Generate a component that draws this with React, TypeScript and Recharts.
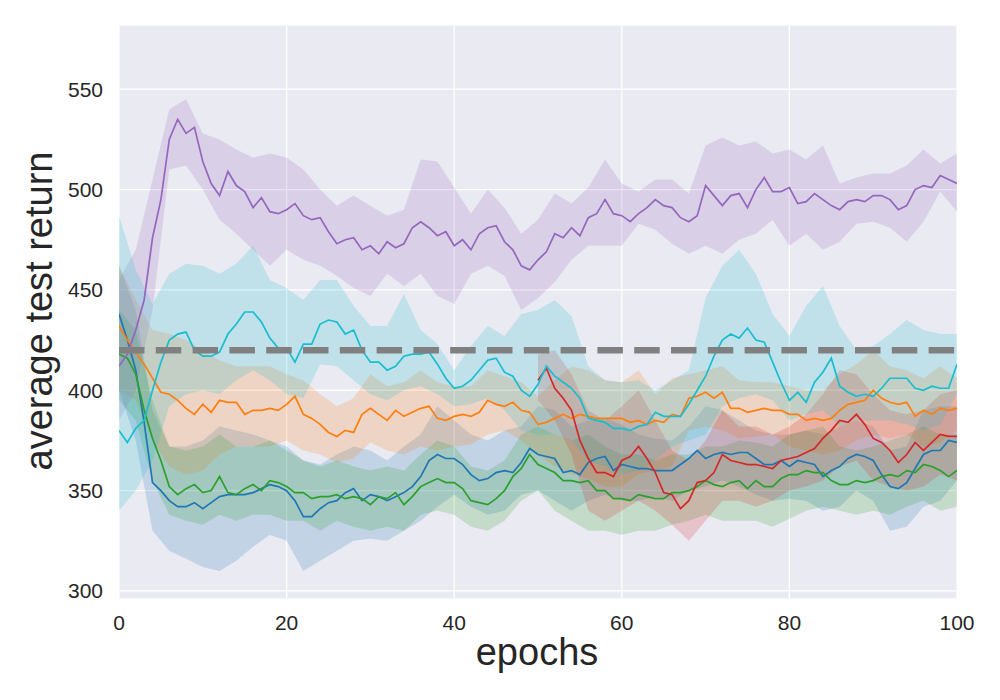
import React from 'react';
import {
  ComposedChart,
  Line,
  Area,
  XAxis,
  YAxis,
  CartesianGrid,
  ReferenceLine,
} from 'recharts';

// x positions: one point per epoch for the means, every 2 epochs for the bands
const lineEpochs = Array.from({ length: 101 }, (_, i) => i);
const bandEpochs = Array.from({ length: 51 }, (_, i) => i * 2);
const redLineEpochs = lineEpochs.slice(50);
const redBandEpochs = bandEpochs.slice(25);

const xTicks = [0, 20, 40, 60, 80, 100];
const yTicks = [300, 350, 400, 450, 500, 550];
const baselineReturn = 420;

const blueMean = [
  438, 425, 410, 384, 354, 350, 345, 342, 342, 344,
  341, 344, 347, 348, 348, 348, 349, 351, 353, 352,
  350, 345, 337, 337, 341, 344, 345, 349, 351, 345,
  348, 347, 345, 347, 349, 352, 357, 365, 368, 366,
  366, 363, 358, 355, 356, 359, 360, 359, 364, 371,
  368, 367, 366, 359, 360, 358, 364, 366, 367, 360,
  363, 362, 361, 361, 360, 360, 360, 363, 366, 370,
  366, 368, 369, 368, 369, 369, 366, 363, 363, 365,
  362, 365, 364, 363, 357, 360, 362, 366, 368, 367,
  365, 358, 352, 351, 354, 361, 368, 370, 370, 375,
  374,
];
const blueLow = [
  400, 375, 330, 320, 316, 312, 310, 315, 322, 328, 325, 310, 315, 320, 325, 326, 325,
  330, 335, 342, 348, 342, 338, 340, 348, 350, 345, 340, 345, 348, 345, 345, 347, 345,
  350, 352, 355, 352, 348, 345, 346, 345, 340, 342, 350, 345, 330, 332, 342, 345, 355,
];
const blueHigh = [
  462, 440, 390, 372, 372, 375, 382, 380, 378, 375, 372, 365, 363, 368, 372, 370, 365,
  372, 378, 392, 385, 378, 375, 380, 382, 392, 390, 382, 385, 386, 383, 378, 376, 375,
  382, 392, 390, 385, 380, 378, 378, 380, 378, 382, 385, 382, 370, 372, 390, 392, 392,
];

const orangeMean = [
  432, 425, 419, 413, 406, 399, 398, 395, 391, 388,
  393, 389, 395, 394, 394, 388, 390, 390, 391, 390,
  393, 397, 388, 386, 383, 379, 377, 380, 379, 388,
  391, 388, 385, 390, 387, 389, 391, 392, 386, 385,
  387, 388, 387, 389, 395, 393, 392, 394, 390, 389,
  383, 384, 386, 388, 386, 388, 387, 386, 386, 386,
  386, 384, 385, 383, 385, 384, 388, 387, 396, 397,
  399, 396, 399, 391, 391, 389, 390, 391, 390, 390,
  388, 388, 385, 386, 385, 386, 390, 393, 394, 395,
  400, 396, 394, 393, 394, 387, 390, 388, 391, 390,
  391,
];
const orangeLow = [
  400, 395, 375, 362, 358, 360, 368, 372, 372, 372, 375, 370, 368, 364, 366, 374, 370,
  368, 372, 370, 372, 373, 378, 380, 375, 368, 362, 358, 356, 352, 352, 358, 360, 362,
  380, 382, 380, 376, 377, 378, 372, 370, 368, 370, 375, 378, 376, 378, 372, 374, 380,
];
const orangeHigh = [
  462, 445, 430, 428, 425, 420, 415, 412, 412, 412, 408, 405, 398, 392, 396, 408, 402,
  404, 410, 404, 402, 402, 410, 407, 404, 397, 405, 412, 410, 405, 404, 410, 398, 406,
  408, 410, 412, 405, 404, 404, 402, 400, 400, 408, 413, 420, 412, 410, 406, 412, 406,
];

const greenMean = [
  418, 416, 408, 390, 376, 365, 352, 348, 351, 353,
  349, 350, 357, 349, 348, 351, 353, 350, 355, 354,
  352, 349, 349, 346, 347, 347, 348, 346, 347, 346,
  343, 347, 346, 349, 343, 347, 352, 354, 356, 354,
  354, 351, 345, 344, 343, 346, 350, 357, 361, 368,
  363, 361, 359, 355, 355, 354, 355, 350, 350, 346,
  346, 345, 348, 347, 346, 346, 349, 349, 350, 352,
  355, 353, 352, 354, 355, 351, 355, 352, 352, 356,
  358, 358, 360, 359, 359, 355, 353, 353, 355, 354,
  355, 357, 358, 357, 360, 359, 363, 362, 360, 357,
  360,
];
const greenLow = [
  395, 385, 355, 338, 335, 333, 338, 335, 338, 338, 335, 335, 330, 335, 332, 330, 332,
  330, 338, 340, 338, 332, 330, 335, 345, 350, 340, 335, 330, 330, 328, 330, 330, 333,
  335, 338, 335, 335, 335, 332, 336, 340, 342, 340, 338, 340, 338, 342, 345, 340, 342,
];
const greenHigh = [
  440, 430, 395, 372, 370, 372, 378, 372, 372, 375, 370, 365, 362, 365, 362, 360, 362,
  360, 368, 375, 372, 362, 360, 365, 378, 382, 378, 375, 378, 372, 368, 368, 365, 368,
  368, 372, 372, 375, 374, 372, 378, 380, 382, 372, 370, 372, 375, 378, 382, 378, 378,
];

// red run only starts halfway (epochs 50..100)
const redMean = [
  405, 411, 401, 396, 390, 375, 366, 359, 359, 357,
  365, 367, 372, 366, 359, 349, 348, 341, 345, 354,
  355, 359, 368, 365, 364, 363, 363, 362, 361, 365,
  366, 367, 369, 371, 376, 380, 385, 384, 388, 383,
  376, 374, 370, 364, 368, 374, 370, 374, 378, 377,
  377,
];
const redLow = [
  395, 385, 368, 340, 335, 340, 345, 340, 333, 325, 335, 345, 345,
  342, 345, 350, 352, 355, 362, 365, 355, 352, 350, 352, 358, 355,
];
const redHigh = [
  418, 420, 408, 390, 385, 392, 400, 385, 370, 365, 375, 390, 382,
  382, 378, 382, 388, 398, 410, 408, 398, 390, 388, 390, 398, 400,
];

const purpleMean = [
  412, 418, 430, 445, 476, 495, 525, 535, 528, 531,
  514, 503, 497, 509, 502, 499, 491, 496, 489, 488,
  490, 493, 487, 485, 486, 479, 473, 475, 476, 470,
  472, 468, 474, 471, 473, 481, 484, 481, 477, 479,
  472, 475, 470, 478, 481, 482, 474, 470, 462, 460,
  465, 469, 478, 476, 481, 477, 486, 488, 495, 488,
  487, 484, 488, 491, 495, 492, 491, 486, 484, 487,
  502, 497, 492, 497, 498, 491, 500, 506, 499, 499,
  501, 493, 494, 498, 495, 492, 490, 494, 495, 494,
  497, 497, 495, 490, 492, 500, 502, 501, 507, 505,
  503,
];
const purpleLow = [
  385, 400, 440, 510, 512, 500, 485, 478, 470, 462, 470, 465, 462, 457, 451, 447, 458,
  452, 458, 447, 443, 458, 462, 457, 440, 446, 454, 465, 472, 472, 472, 483, 480, 473,
  468, 472, 468, 475, 478, 485, 472, 478, 470, 474, 483, 484, 481, 474, 484, 499, 489,
];
const purpleHigh = [
  455, 470, 505, 540, 545, 528, 525, 520, 516, 518, 516, 510, 500, 492, 497, 492, 487,
  490, 515, 514, 501, 488, 500, 491, 478, 485, 498, 493, 501, 515, 503, 499, 505, 505,
  498, 522, 526, 522, 524, 518, 520, 515, 522, 503, 506, 508, 508, 512, 520, 513, 518,
];

const cyanMean = [
  380, 374, 381, 385, 400, 414, 425, 428, 429, 420,
  417, 417, 419, 428, 433, 439, 439, 434, 426, 421,
  421, 414, 423, 423, 433, 435, 434, 428, 430, 420,
  414, 414, 410, 412, 417, 418, 418, 419, 413, 406,
  401, 402, 405, 410, 415, 416, 409, 407, 400, 397,
  403, 412, 407, 404, 401, 396, 386, 385, 384, 381,
  381, 380, 382, 383, 389, 387, 387, 387, 393, 400,
  407, 417, 425, 428, 426, 431, 425, 424, 414, 404,
  395, 399, 394, 404, 409, 416, 402, 399, 397, 398,
  397, 401, 406, 406, 406, 401, 400, 402, 401, 401,
  413,
];
const cyanLow = [
  340, 350, 365, 392, 398, 400, 398, 405, 410, 405, 398, 396, 413, 412, 405, 398, 395,
  400, 402, 398, 392, 393, 396, 390, 380, 378, 378, 375, 365, 362, 358, 360, 365, 372,
  375, 378, 392, 396, 398, 395, 385, 388, 390, 382, 385, 385, 385, 383, 380, 383, 398,
];
const cyanHigh = [
  487, 460, 443, 458, 463, 462, 458, 463, 472, 455, 451, 445, 455, 455, 442, 432, 432,
  448, 430, 423, 410, 422, 432, 427, 438, 440, 445, 437, 412, 405, 404, 405, 400, 405,
  410, 446, 462, 470, 458, 438, 427, 442, 452, 432, 420, 422, 428, 435, 430, 428, 428,
];

const toLine = (xs: number[], ys: number[]) => xs.map((epoch, i) => ({ epoch, value: ys[i] }));
const toBand = (xs: number[], lo: number[], hi: number[]) =>
  xs.map((epoch, i) => ({ epoch, range: [lo[i], hi[i]] }));

const series = [
  { key: 'blue', color: '#1f77b4', line: toLine(lineEpochs, blueMean), band: toBand(bandEpochs, blueLow, blueHigh) },
  { key: 'orange', color: '#ff7f0e', line: toLine(lineEpochs, orangeMean), band: toBand(bandEpochs, orangeLow, orangeHigh) },
  { key: 'green', color: '#2ca02c', line: toLine(lineEpochs, greenMean), band: toBand(bandEpochs, greenLow, greenHigh) },
  { key: 'red', color: '#d62728', line: toLine(redLineEpochs, redMean), band: toBand(redBandEpochs, redLow, redHigh) },
  { key: 'purple', color: '#9467bd', line: toLine(lineEpochs, purpleMean), band: toBand(bandEpochs, purpleLow, purpleHigh) },
  { key: 'cyan', color: '#17becf', line: toLine(lineEpochs, cyanMean), band: toBand(bandEpochs, cyanLow, cyanHigh) },
];

const font = "'Liberation Sans', Arial, sans-serif";
const textColor = '#262626';

export default function App() {
  return (
    <div style={{ position: 'relative', width: 1000, height: 700, background: '#fff', fontFamily: font }}>
      <style>{'body { margin: 0; }'}</style>
      <ComposedChart width={1000} height={700} margin={{ top: 25, right: 43, bottom: 0, left: 0 }}>
        <CartesianGrid fill="#EAEAF2" stroke="#FFFFFF" strokeWidth={1.3} />
        <XAxis
          type="number"
          dataKey="epoch"
          domain={[0, 100]}
          ticks={xTicks}
          allowDataOverflow
          height={101}
          axisLine={false}
          tickLine={false}
          tickSize={6}
          tickMargin={10}
          tick={{ fill: textColor, fontSize: 21, fontFamily: font }}
        />
        <YAxis
          type="number"
          domain={[296, 582]}
          ticks={yTicks}
          allowDataOverflow
          width={119}
          axisLine={false}
          tickLine={false}
          tickSize={6}
          tickMargin={10}
          tick={{ fill: textColor, fontSize: 21, fontFamily: font }}
        />
        {series.map((s) => (
          <Area
            key={`${s.key}-band`}
            data={s.band}
            dataKey="range"
            type="linear"
            stroke="none"
            fill={s.color}
            fillOpacity={0.2}
            activeDot={false}
            isAnimationActive={false}
          />
        ))}
        {series.map((s) => (
          <Line
            key={`${s.key}-line`}
            data={s.line}
            dataKey="value"
            type="linear"
            stroke={s.color}
            strokeWidth={1.7}
            dot={false}
            activeDot={false}
            isAnimationActive={false}
          />
        ))}
        <ReferenceLine y={baselineReturn} stroke="#808080" strokeWidth={6.5} strokeDasharray="25.5 11.3" />
      </ComposedChart>
      <div
        style={{
          position: 'absolute',
          left: 38.5,
          top: 311,
          transform: 'translate(-50%, -50%) rotate(-90deg)',
          fontSize: 38,
          lineHeight: 1,
          color: textColor,
          whiteSpace: 'nowrap',
        }}
      >
        average test return
      </div>
      <div
        style={{
          position: 'absolute',
          left: 537,
          top: 652,
          transform: 'translate(-50%, -50%)',
          fontSize: 38,
          lineHeight: 1,
          color: textColor,
          whiteSpace: 'nowrap',
        }}
      >
        epochs
      </div>
    </div>
  );
}
